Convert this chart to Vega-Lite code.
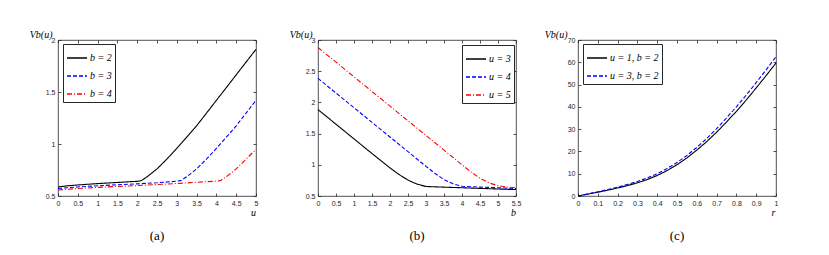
{
  "$schema": "https://vega.github.io/schema/vega-lite/v6.json",
  "background": "white",
  "padding": {"left": 28, "top": 28, "right": 0, "bottom": 0},
  "spacing": 62,
  "bounds": "flush",
  "datasets": {
    "a": [
      {"s":"b = 2","x":0,"y":0.587},{"s":"b = 2","x":0.25,"y":0.598},{"s":"b = 2","x":0.5,"y":0.606},{"s":"b = 2","x":0.75,"y":0.613},{"s":"b = 2","x":1,"y":0.619},{"s":"b = 2","x":1.25,"y":0.625},{"s":"b = 2","x":1.5,"y":0.63},{"s":"b = 2","x":1.75,"y":0.636},{"s":"b = 2","x":2,"y":0.641},{"s":"b = 2","x":2.1,"y":0.647},{"s":"b = 2","x":2.25,"y":0.685},{"s":"b = 2","x":2.5,"y":0.76},{"s":"b = 2","x":2.75,"y":0.855},{"s":"b = 2","x":3,"y":0.958},{"s":"b = 2","x":3.25,"y":1.065},{"s":"b = 2","x":3.5,"y":1.175},{"s":"b = 2","x":3.75,"y":1.297},{"s":"b = 2","x":4,"y":1.42},{"s":"b = 2","x":4.25,"y":1.542},{"s":"b = 2","x":4.5,"y":1.665},{"s":"b = 2","x":4.75,"y":1.788},{"s":"b = 2","x":5,"y":1.91},
      {"s":"b = 3","x":0,"y":0.572},{"s":"b = 3","x":0.25,"y":0.58},{"s":"b = 3","x":0.5,"y":0.587},{"s":"b = 3","x":0.75,"y":0.593},{"s":"b = 3","x":1,"y":0.598},{"s":"b = 3","x":1.5,"y":0.608},{"s":"b = 3","x":2,"y":0.617},{"s":"b = 3","x":2.5,"y":0.627},{"s":"b = 3","x":3,"y":0.642},{"s":"b = 3","x":3.1,"y":0.648},{"s":"b = 3","x":3.25,"y":0.685},{"s":"b = 3","x":3.5,"y":0.76},{"s":"b = 3","x":3.75,"y":0.855},{"s":"b = 3","x":4,"y":0.958},{"s":"b = 3","x":4.25,"y":1.065},{"s":"b = 3","x":4.5,"y":1.175},{"s":"b = 3","x":4.75,"y":1.297},{"s":"b = 3","x":5,"y":1.42},
      {"s":"b = 4","x":0,"y":0.557},{"s":"b = 4","x":0.25,"y":0.565},{"s":"b = 4","x":0.5,"y":0.572},{"s":"b = 4","x":1,"y":0.583},{"s":"b = 4","x":1.5,"y":0.592},{"s":"b = 4","x":2,"y":0.6},{"s":"b = 4","x":2.5,"y":0.61},{"s":"b = 4","x":3,"y":0.62},{"s":"b = 4","x":3.5,"y":0.632},{"s":"b = 4","x":4,"y":0.643},{"s":"b = 4","x":4.1,"y":0.648},{"s":"b = 4","x":4.25,"y":0.685},{"s":"b = 4","x":4.5,"y":0.76},{"s":"b = 4","x":4.75,"y":0.855},{"s":"b = 4","x":5,"y":0.948}
    ],
    "b": [
      {"s":"u = 3","x":0,"y":1.885},{"s":"u = 3","x":0.5,"y":1.65},{"s":"u = 3","x":1,"y":1.415},{"s":"u = 3","x":1.5,"y":1.18},{"s":"u = 3","x":2,"y":0.95},{"s":"u = 3","x":2.25,"y":0.845},{"s":"u = 3","x":2.5,"y":0.755},{"s":"u = 3","x":2.75,"y":0.69},{"s":"u = 3","x":3,"y":0.652},{"s":"u = 3","x":3.5,"y":0.642},{"s":"u = 3","x":4,"y":0.632},{"s":"u = 3","x":4.5,"y":0.622},{"s":"u = 3","x":5,"y":0.612},{"s":"u = 3","x":5.5,"y":0.603},
      {"s":"u = 4","x":0,"y":2.385},{"s":"u = 4","x":0.5,"y":2.15},{"s":"u = 4","x":1,"y":1.915},{"s":"u = 4","x":1.5,"y":1.68},{"s":"u = 4","x":2,"y":1.445},{"s":"u = 4","x":2.5,"y":1.21},{"s":"u = 4","x":3,"y":0.975},{"s":"u = 4","x":3.25,"y":0.86},{"s":"u = 4","x":3.5,"y":0.765},{"s":"u = 4","x":3.75,"y":0.695},{"s":"u = 4","x":4,"y":0.655},{"s":"u = 4","x":4.5,"y":0.643},{"s":"u = 4","x":5,"y":0.632},{"s":"u = 4","x":5.5,"y":0.62},
      {"s":"u = 5","x":0,"y":2.88},{"s":"u = 5","x":0.5,"y":2.645},{"s":"u = 5","x":1,"y":2.41},{"s":"u = 5","x":1.5,"y":2.175},{"s":"u = 5","x":2,"y":1.94},{"s":"u = 5","x":2.5,"y":1.705},{"s":"u = 5","x":3,"y":1.47},{"s":"u = 5","x":3.5,"y":1.235},{"s":"u = 5","x":4,"y":1.0},{"s":"u = 5","x":4.25,"y":0.885},{"s":"u = 5","x":4.5,"y":0.785},{"s":"u = 5","x":4.75,"y":0.71},{"s":"u = 5","x":5,"y":0.665},{"s":"u = 5","x":5.25,"y":0.645},{"s":"u = 5","x":5.5,"y":0.632}
    ],
    "c": [
      {"s":"u = 1, b = 2","x":0,"y":0},{"s":"u = 1, b = 2","x":0.05,"y":0.85},{"s":"u = 1, b = 2","x":0.1,"y":1.7},{"s":"u = 1, b = 2","x":0.15,"y":2.6},{"s":"u = 1, b = 2","x":0.2,"y":3.6},{"s":"u = 1, b = 2","x":0.25,"y":4.7},{"s":"u = 1, b = 2","x":0.3,"y":5.9},{"s":"u = 1, b = 2","x":0.35,"y":7.4},{"s":"u = 1, b = 2","x":0.4,"y":9.2},{"s":"u = 1, b = 2","x":0.45,"y":11.4},{"s":"u = 1, b = 2","x":0.5,"y":14.0},{"s":"u = 1, b = 2","x":0.55,"y":17.1},{"s":"u = 1, b = 2","x":0.6,"y":20.6},{"s":"u = 1, b = 2","x":0.65,"y":24.4},{"s":"u = 1, b = 2","x":0.7,"y":28.6},{"s":"u = 1, b = 2","x":0.75,"y":33.2},{"s":"u = 1, b = 2","x":0.8,"y":38.0},{"s":"u = 1, b = 2","x":0.85,"y":43.1},{"s":"u = 1, b = 2","x":0.9,"y":48.5},{"s":"u = 1, b = 2","x":0.95,"y":54.0},{"s":"u = 1, b = 2","x":1,"y":59.7},
      {"s":"u = 3, b = 2","x":0,"y":0},{"s":"u = 3, b = 2","x":0.05,"y":0.95},{"s":"u = 3, b = 2","x":0.1,"y":1.9},{"s":"u = 3, b = 2","x":0.15,"y":2.9},{"s":"u = 3, b = 2","x":0.2,"y":4.0},{"s":"u = 3, b = 2","x":0.25,"y":5.2},{"s":"u = 3, b = 2","x":0.3,"y":6.5},{"s":"u = 3, b = 2","x":0.35,"y":8.1},{"s":"u = 3, b = 2","x":0.4,"y":10.0},{"s":"u = 3, b = 2","x":0.45,"y":12.3},{"s":"u = 3, b = 2","x":0.5,"y":15.0},{"s":"u = 3, b = 2","x":0.55,"y":18.2},{"s":"u = 3, b = 2","x":0.6,"y":21.8},{"s":"u = 3, b = 2","x":0.65,"y":25.8},{"s":"u = 3, b = 2","x":0.7,"y":30.2},{"s":"u = 3, b = 2","x":0.75,"y":35.0},{"s":"u = 3, b = 2","x":0.8,"y":40.0},{"s":"u = 3, b = 2","x":0.85,"y":45.3},{"s":"u = 3, b = 2","x":0.9,"y":50.9},{"s":"u = 3, b = 2","x":0.95,"y":56.6},{"s":"u = 3, b = 2","x":1,"y":62.5}
    ]
  },
  "hconcat": [
    {
      "width": 198, "height": 156,
      "data": {"name": "a"},
      "title": {"text": "(a)", "orient": "bottom", "anchor": "middle", "offset": 13},
      "layer": [
        {
          "mark": {"type": "line", "strokeWidth": 1.1},
          "encoding": {
            "x": {"field": "x", "type": "quantitative", "scale": {"domain": [0, 5], "nice": false, "zero": false},
                  "axis": {"values": [0,0.5,1,1.5,2,2.5,3,3.5,4,4.5,5], "title": "u", "titleX": 195, "titleY": 19}},
            "y": {"field": "y", "type": "quantitative", "scale": {"domain": [0.5, 2], "nice": false, "zero": false},
                  "axis": {"values": [0.5,1,1.5,2], "title": "Vb(u)", "titleX": -6, "titleY": -3}},
            "color": {"field": "s", "type": "nominal", "scale": {"domain": ["b = 2","b = 3","b = 4"], "range": ["#000000","#0000ff","#ff0000"]},
                      "legend": {"legendX": 5, "legendY": 4}},
            "strokeDash": {"field": "s", "type": "nominal", "scale": {"domain": ["b = 2","b = 3","b = 4"], "range": [[1,0],[4,2],[5,2,1,2]]},
                      "legend": {"legendX": 5, "legendY": 4}}
          }
        },
        {
          "mark": {"type": "line", "opacity": 0},
          "encoding": {
            "x": {"field": "x", "type": "quantitative", "axis": {"orient": "top", "values": [0,0.5,1,1.5,2,2.5,3,3.5,4,4.5,5], "labels": false, "title": null}},
            "y": {"field": "y", "type": "quantitative", "axis": {"orient": "right", "values": [0.5,1,1.5,2], "labels": false, "title": null}},
            "detail": {"field": "s"}
          }
        }
      ],
      "resolve": {"axis": {"x": "independent", "y": "independent"}}
    },
    {
      "width": 198, "height": 156,
      "data": {"name": "b"},
      "title": {"text": "(b)", "orient": "bottom", "anchor": "middle", "offset": 13},
      "layer": [
        {
          "mark": {"type": "line", "strokeWidth": 1.1},
          "encoding": {
            "x": {"field": "x", "type": "quantitative", "scale": {"domain": [0, 5.5], "nice": false, "zero": false},
                  "axis": {"values": [0,0.5,1,1.5,2,2.5,3,3.5,4,4.5,5,5.5], "title": "b", "titleX": 195, "titleY": 19}},
            "y": {"field": "y", "type": "quantitative", "scale": {"domain": [0.5, 3], "nice": false, "zero": false},
                  "axis": {"values": [0.5,1,1.5,2,2.5,3], "title": "Vb(u)", "titleX": -6, "titleY": -3}},
            "color": {"field": "s", "type": "nominal", "scale": {"domain": ["u = 3","u = 4","u = 5"], "range": ["#000000","#0000ff","#ff0000"]},
                      "legend": {"legendX": 144, "legendY": 5}},
            "strokeDash": {"field": "s", "type": "nominal", "scale": {"domain": ["u = 3","u = 4","u = 5"], "range": [[1,0],[4,2],[5,2,1,2]]},
                      "legend": {"legendX": 144, "legendY": 5}}
          }
        },
        {
          "mark": {"type": "line", "opacity": 0},
          "encoding": {
            "x": {"field": "x", "type": "quantitative", "axis": {"orient": "top", "values": [0,0.5,1,1.5,2,2.5,3,3.5,4,4.5,5,5.5], "labels": false, "title": null}},
            "y": {"field": "y", "type": "quantitative", "axis": {"orient": "right", "values": [0.5,1,1.5,2,2.5,3], "labels": false, "title": null}},
            "detail": {"field": "s"}
          }
        }
      ],
      "resolve": {"axis": {"x": "independent", "y": "independent"}}
    },
    {
      "width": 198, "height": 156,
      "data": {"name": "c"},
      "title": {"text": "(c)", "orient": "bottom", "anchor": "middle", "offset": 13},
      "layer": [
        {
          "mark": {"type": "line", "strokeWidth": 1.1},
          "encoding": {
            "x": {"field": "x", "type": "quantitative", "scale": {"domain": [0, 1], "nice": false, "zero": false},
                  "axis": {"values": [0,0.1,0.2,0.3,0.4,0.5,0.6,0.7,0.8,0.9,1], "title": "r", "titleX": 195, "titleY": 19}},
            "y": {"field": "y", "type": "quantitative", "scale": {"domain": [0, 70], "nice": false, "zero": false},
                  "axis": {"values": [0,10,20,30,40,50,60,70], "title": "Vb(u)", "titleX": -11, "titleY": -3}},
            "color": {"field": "s", "type": "nominal", "scale": {"domain": ["u = 1, b = 2","u = 3, b = 2"], "range": ["#000000","#0000ff"]},
                      "legend": {"legendX": 5, "legendY": 4}},
            "strokeDash": {"field": "s", "type": "nominal", "scale": {"domain": ["u = 1, b = 2","u = 3, b = 2"], "range": [[1,0],[4,2]]},
                      "legend": {"legendX": 5, "legendY": 4}}
          }
        },
        {
          "mark": {"type": "line", "opacity": 0},
          "encoding": {
            "x": {"field": "x", "type": "quantitative", "axis": {"orient": "top", "values": [0,0.1,0.2,0.3,0.4,0.5,0.6,0.7,0.8,0.9,1], "labels": false, "title": null}},
            "y": {"field": "y", "type": "quantitative", "axis": {"orient": "right", "values": [0,10,20,30,40,50,60,70], "labels": false, "title": null}},
            "detail": {"field": "s"}
          }
        }
      ],
      "resolve": {"axis": {"x": "independent", "y": "independent"}}
    }
  ],
  "resolve": {"scale": {"color": "independent", "strokeDash": "independent"}, "legend": {"color": "independent", "strokeDash": "independent"}},
  "config": {
    "view": {"stroke": "#262626", "strokeWidth": 0.8},
    "axis": {
      "domain": false, "grid": false,
      "tickSize": -3, "tickColor": "#262626", "tickWidth": 0.8,
      "labelPadding": 6, "labelFont": "Liberation Sans", "labelFontSize": 7, "labelColor": "#262626", "labelFlush": false, "labelOverlap": false,
      "format": "~r",
      "titleFont": "Liberation Serif", "titleFontStyle": "italic", "titleFontWeight": "normal", "titleFontSize": 10, "titleColor": "#000000",
      "titleAngle": 0, "titleAlign": "center", "titleBaseline": "alphabetic", "titlePadding": 0
    },
    "axisY": {"titleAlign": "right"},
    "legend": {
      "orient": "none", "title": null, "strokeColor": "#262626", "fillColor": "white", "padding": 3,
      "symbolType": "stroke", "symbolSize": 400, "symbolStrokeWidth": 1.3,
      "labelFont": "Liberation Serif", "labelFontStyle": "italic", "labelFontSize": 10, "labelColor": "#000000",
      "labelOffset": 2, "rowPadding": 2
    },
    "title": {"font": "Liberation Serif", "fontSize": 13, "fontWeight": "normal", "color": "#000000", "baseline": "top"}
  }
}
